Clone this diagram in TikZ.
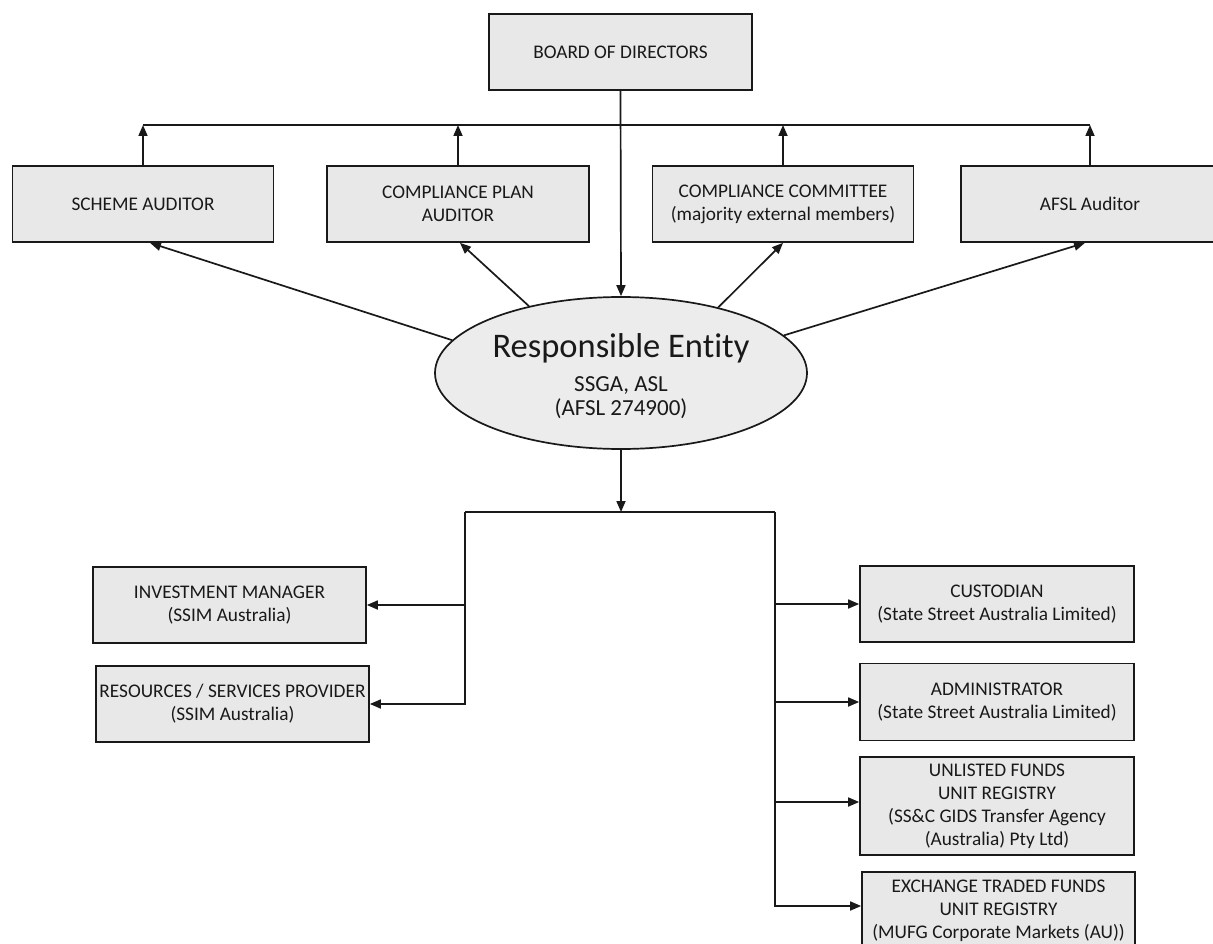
\documentclass[tikz,border=0pt]{standalone}
\usepackage{fontspec}
\setmainfont{Carlito}[Ligatures=NoCommon]
\usetikzlibrary{arrows.meta,shapes.geometric}
\definecolor{boxgray}{RGB}{232,232,232}
\definecolor{ellgray}{RGB}{236,236,236}
\definecolor{inkc}{RGB}{25,25,25}
\tikzset{
  orgbox/.style={draw=inkc, line width=1.7pt, fill=boxgray, rectangle, align=center,
    inner sep=2pt, font=\fontsize{19.3}{23}\selectfont, text=inkc},
  conn/.style={draw=inkc, line width=1.7pt},
  arr/.style={conn, -{Triangle[length=11pt,width=9pt]}},
  retext/.style={anchor=base, text=inkc, inner sep=0pt}
}
\begin{document}
\begin{tikzpicture}[x=1pt,y=-1pt]
\useasboundingbox (0,0) rectangle (1213,944);
\clip (0,0) rectangle (1213,944);
\fill[white] (0,0) rectangle (1213,944);

% top row
\node[orgbox, minimum width=263pt, minimum height=76pt] (board) at (620.5,52) {BOARD OF DIRECTORS};
\node[orgbox, minimum width=261pt, minimum height=76pt] (scheme) at (143,204) {SCHEME AUDITOR};
\node[orgbox, minimum width=262pt, minimum height=76pt] (cpa) at (458,204) {COMPLIANCE PLAN\\AUDITOR};
\node[orgbox, minimum width=261pt, minimum height=76pt] (cc) at (783,204) {COMPLIANCE COMMITTEE\\(majority external members)};
\node[orgbox, minimum width=258pt, minimum height=76pt] (afsl) at (1090,204) {AFSL Auditor};

% responsible entity
\node[ellipse, draw=inkc, line width=1.7pt, fill=ellgray, minimum width=372pt, minimum height=152pt, inner sep=0pt] (re) at (621,373) {};
\node[retext, font=\fontsize{34.5}{40}\selectfont] (retitle) at (621,357) {Responsible Entity};
\node[retext, font=\fontsize{23}{27}\selectfont] (resub) at (621,391) {SSGA, ASL};
\node[retext, font=\fontsize{23}{27}\selectfont] (relic) at (621,415) {(AFSL 274900)};

% left service boxes
\node[orgbox, minimum width=273pt, minimum height=76pt] (im) at (229.5,605) {INVESTMENT MANAGER\\(SSIM Australia)};
\node[orgbox, minimum width=273pt, minimum height=76pt] (rsp) at (232.5,704) {RESOURCES / SERVICES PROVIDER\\(SSIM Australia)};

% right service boxes
\node[orgbox, minimum width=274pt, minimum height=76pt] (cust) at (997,604) {CUSTODIAN\\(State Street Australia Limited)};
\node[orgbox, minimum width=274pt, minimum height=77pt] (admin) at (997,702) {ADMINISTRATOR\\(State Street Australia Limited)};
\node[orgbox, minimum width=274pt, minimum height=98pt] (unl) at (997,806) {UNLISTED FUNDS\\UNIT REGISTRY\\(SS\&C GIDS Transfer Agency\\(Australia) Pty Ltd)};
\node[orgbox, minimum width=273pt, minimum height=98pt] (etf) at (998.5,921) {EXCHANGE TRADED FUNDS\\UNIT REGISTRY\\(MUFG Corporate Markets (AU))\\[0pt]\ };

% helper coordinates
\coordinate (tl) at (0,125);
\coordinate (hl) at (0,512);
\coordinate (lj) at (465,512);
\coordinate (rj) at (775,512);

% top bus
\draw[conn] (scheme.north |- tl) -- (afsl.north |- tl);
\draw[arr] (scheme.north) -- (scheme.north |- tl);
\draw[arr] (cpa.north) -- (cpa.north |- tl);
\draw[arr] (cc.north) -- (cc.north |- tl);
\draw[arr] (afsl.north) -- (afsl.north |- tl);
\draw[arr] (board.south) -- (re.north);

% ellipse to auditors
\draw[arr] (re.169) -- ([xshift=7pt]scheme.south);
\draw[arr] (re.144) -- ([xshift=2pt]cpa.south);
\draw[arr] (re.34) -- (cc.south);
\draw[arr] (re.13) -- ([xshift=-5pt]afsl.south);

% lower distribution
\draw[arr] (re.south) -- (re.south |- hl);
\draw[conn] (lj) -- (rj);
\draw[arr] (lj) |- (rsp.east);
\draw[arr] (lj |- im.east) -- (im.east);
\draw[arr] (rj) |- ([yshift=15pt]etf.west);
\draw[arr] (rj |- cust.west) -- (cust.west);
\draw[arr] (rj |- admin.west) -- (admin.west);
\draw[arr] (rj |- unl.west) ++(0,-4) -- ([yshift=4pt]unl.west);
\end{tikzpicture}
\end{document}
